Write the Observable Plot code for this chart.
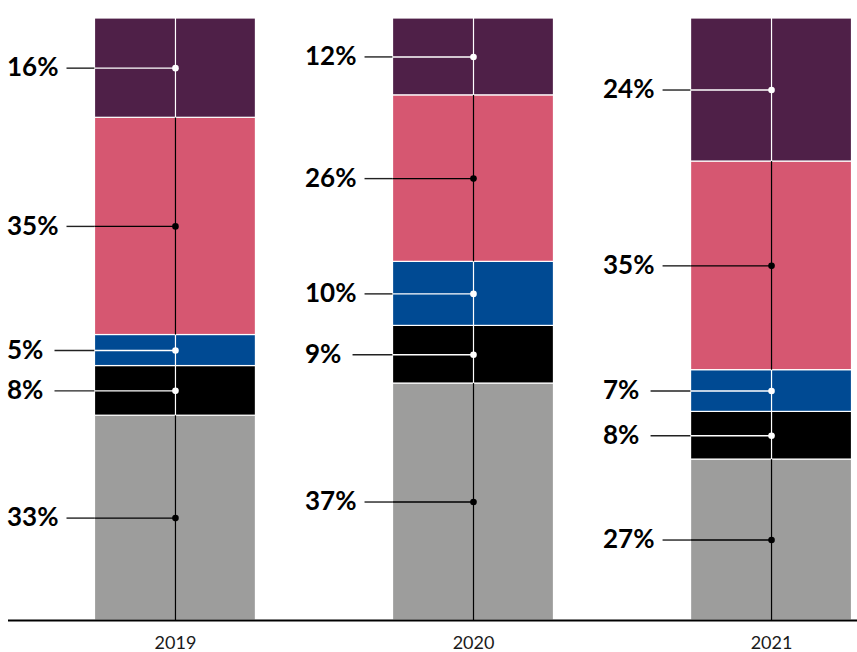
<!DOCTYPE html>
<html><head><meta charset="utf-8">
<script src="https://cdn.jsdelivr.net/npm/d3@7"></script>
<script src="https://cdn.jsdelivr.net/npm/@observablehq/plot@0.6"></script>
<style>body{margin:0;background:#fff} #chart svg{display:block}</style>
</head><body><div id="chart"></div>
<script>
const years = ["2019", "2020", "2021"];
const categories = ["Grey", "Black", "Blue", "Pink", "Purple"];
const values2019 = [33, 8, 5, 35, 16];
const values2020 = [37, 9, 10, 26, 12];
const values2021 = [27, 8, 7, 35, 24];
const palette = ["#9d9d9c", "#000000", "#004a93", "#d65771", "#4f2048"];
const darkCategories = ["Black", "Blue", "Purple"];

const seriesByYear = [values2019, values2020, values2021];
const rows = years.flatMap((year, i) => categories.map((cat, j) => ({
  year, cat, value: seriesByYear[i][j], label: seriesByYear[i][j] + "%"
})));

const BW = 160.9; // band width in px (from x scale below)
const S = {x: "year", y: "value", offset: "normalize"};
const fillOf = d => palette[categories.indexOf(d.cat)];
const contrast = d => darkCategories.includes(d.cat) ? "white" : "black";

const ruleOpts = (() => { const {y, ...o} = Plot.stackY({...S, stroke: contrast, strokeWidth: 1.2}); return o; })();

const chart = Plot.plot({
  width: 857,
  height: 652,
  marginTop: 18,
  marginBottom: 32,
  marginLeft: 8,
  marginRight: 0,
  style: {fontFamily: "Lato, 'Noto Sans', sans-serif", background: "white", color: "#111"},
  x: {domain: years, range: [94.5, 851.5], paddingInner: 0.46, paddingOuter: 0, round: false, axis: null},
  y: {domain: [0, 1], axis: null},
  color: {type: "identity"},
  marks: [
    Plot.barY(rows, Plot.stackY({...S, fill: fillOf, stroke: "white", strokeWidth: 1.2})),
    Plot.ruleX(rows, ruleOpts),
    Plot.tickY(rows, Plot.filter(d => d.value >= 10, Plot.stackY({...S, stroke: "#222", strokeWidth: 1.4, insetLeft: -28, insetRight: BW}))),
    Plot.tickY(rows, Plot.filter(d => d.value < 10, Plot.stackY({...S, stroke: "#222", strokeWidth: 1.4, insetLeft: -40, insetRight: BW}))),
    Plot.tickY(rows, Plot.stackY({...S, stroke: contrast, strokeWidth: 1.4, insetRight: BW / 2})),
    Plot.dot(rows, Plot.stackY({...S, fill: contrast, r: 3.3})),
    Plot.text(rows, Plot.stackY({...S, text: "label", textAnchor: "start", dx: -168.5, fontSize: 26, fontWeight: 700, fill: "black"})),
    Plot.text(years, {x: d => d, text: d => d, frameAnchor: "bottom", lineAnchor: "middle", dy: 23, fontSize: 18, fontWeight: 400, fill: "#1a1a1a"}),
    Plot.ruleY([0], {stroke: "black", strokeWidth: 2.2})
  ]
});
document.getElementById("chart").append(chart);
</script>
</body></html>
